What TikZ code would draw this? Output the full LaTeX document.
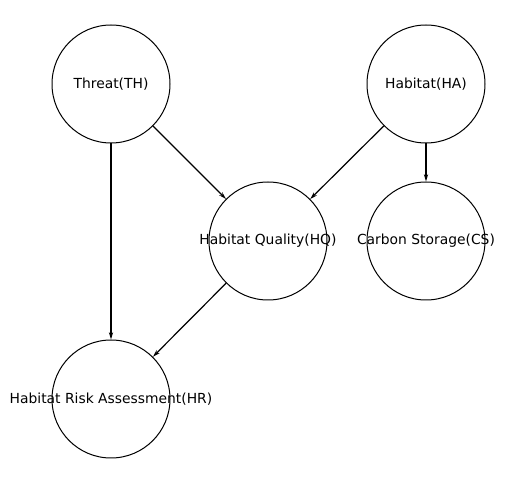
\documentclass[tikz,border=0pt]{standalone}
\usepackage{fontspec}
\setmainfont{DejaVu Sans}
\usetikzlibrary{arrows.meta}
\tikzset{
  layer/.style={circle, draw, line width=0.75pt, minimum size=88.5pt, inner sep=0pt},
  link/.style={-{Stealth[length=5.5pt,width=3.2pt]}, line width=0.9pt}
}

\begin{document}
\begin{tikzpicture}[x=0.75pt,y=-0.75pt,font=\fontsize{10.4}{12}\selectfont]
\useasboundingbox (0,0) rectangle (511,484);
% Nodes of the graph
\node[layer, label=center:{Threat(TH)}] (th) at (111,84) {};
\node[layer, label=center:{Habitat(HA)}] (ha) at (426,84) {};
\node[layer, label=center:{Habitat Quality(HQ)}] (hq) at (268,241) {};
\node[layer, label=center:{Carbon Storage(CS)}] (cs) at (426,241) {};
\node[layer, label=center:{Habitat Risk Assessment(HR)}] (hr) at (111,399) {};

% Dependencies
\draw[link] (th) -- (hq);
\draw[link] (th) -- (hr);
\draw[link] (ha) -- (hq);
\draw[link] (ha) -- (cs);
\draw[link] (hq) -- (hr);
\end{tikzpicture}
\end{document}
